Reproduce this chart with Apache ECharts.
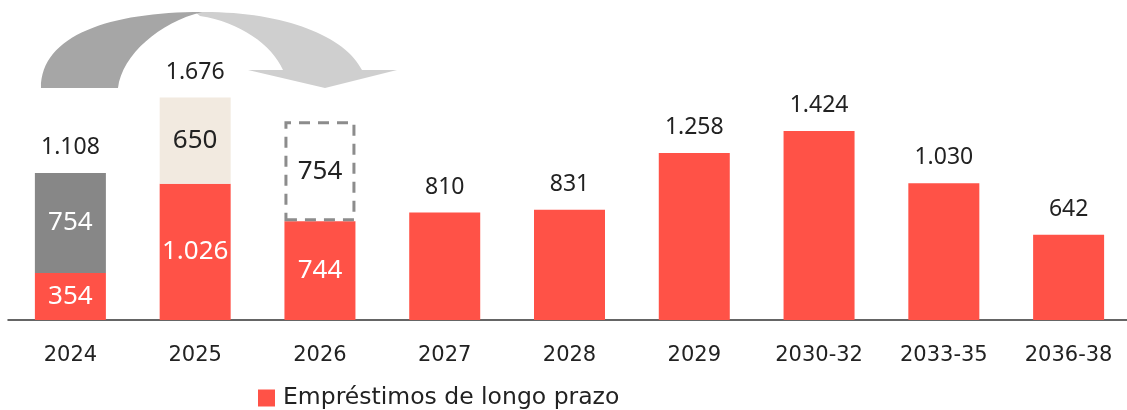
<!DOCTYPE html>
<html>
<head>
<meta charset="utf-8">
<script src="https://cdn.jsdelivr.net/npm/echarts@6/dist/echarts.min.js"></script>
<style>
html,body{margin:0;padding:0;background:#fff;overflow:hidden;}
#c{width:1131px;height:410px;}
</style>
</head>
<body>
<div id="c"></div>
<script>
var categories = ['2024','2025','2026','2027','2028','2029','2030-32','2033-35','2036-38'];
var longTerm = [354, 1026, 744, 810, 831, 1258, 1424, 1030, 642];
var shortTerm2024 = [754, null, null, null, null, null, null, null, null];
var extra2025 = [null, 650, null, null, null, null, null, null, null];
var moved2026 = [null, null, 754, null, null, null, null, null, null];
var legendName = 'Empréstimos de longo prazo';

function fmt(n){ return String(n).replace(/\B(?=(\d{3})+(?!\d))/g, '.'); }

var FONT = 'Noto Sans';
var FONT2 = 'DejaVu Sans';
var RED = '#FF5247';
var DARK = '#222222';

var totals = categories.map(function(c, i){
  if (shortTerm2024[i] != null) return longTerm[i] + shortTerm2024[i];
  if (extra2025[i] != null) return longTerm[i] + extra2025[i];
  return null;
});

var redData = longTerm.map(function(v, i){
  var stacked = shortTerm2024[i] != null || extra2025[i] != null || moved2026[i] != null;
  return {
    value: v,
    label: stacked ?
      {show: true, position: 'inside', color: '#fff', fontSize: 26, fontFamily: FONT} :
      {show: true, position: 'top', distance: 14, color: DARK, fontSize: 23, fontFamily: FONT}
  };
});

var totalData = totals.map(function(t){ return t == null ? null : {value: 0, total: t}; });

var arrowLight = 'M195,12 C280,10 345,35 362,70 L397,70 L325,88 L248,70 L283,70 C272,45 240,22 200,16 Z';
var arrowDark = 'M41,88 C41,35 110,12 202,12 C160,22 122,55 118,88 Z';

var chart = echarts.init(document.getElementById('c'), null, {renderer: 'canvas'});
chart.setOption({
  animation: false,
  grid: {left: 8, right: 0, top: 10, bottom: 90},
  legend: {
    data: [legendName],
    left: 258, top: 386, padding: 0,
    itemWidth: 17, itemHeight: 17,
    icon: 'rect',
    textStyle: {fontSize: 23.5, color: DARK, fontFamily: FONT2, padding: [0,0,0,3]}
  },
  xAxis: {
    type: 'category',
    data: categories,
    axisLine: {lineStyle: {color: '#333', width: 1.5}},
    axisTick: {show: false},
    axisLabel: {fontSize: 21, color: DARK, fontFamily: FONT2, margin: 25}
  },
  yAxis: {type: 'value', min: 0, max: 2336, show: false, splitLine: {show: false}},
  series: [
    {name: 'arrow', type: 'custom', data: [0], silent: true, z: 1,
      renderItem: function(){
        return {type: 'group', children: [
          {type: 'path', shape: {pathData: arrowLight}, style: {fill: '#cfcfcf'}},
          {type: 'path', shape: {pathData: arrowDark}, style: {fill: '#a6a6a6'}}
        ]};
      }},
    {name: legendName, type: 'bar', stack: 's', barWidth: 71, data: redData, itemStyle: {color: RED},
      label: {formatter: function(p){ return fmt(p.value); }}},
    {name: 'grey', type: 'bar', stack: 's', barWidth: 71, data: shortTerm2024, itemStyle: {color: '#878787'},
      label: {show: true, position: 'inside', color: '#fff', fontSize: 26, fontFamily: FONT, formatter: function(p){ return fmt(p.value); }}},
    {name: 'beige', type: 'bar', stack: 's', barWidth: 71, data: extra2025, itemStyle: {color: '#F2EAE0'},
      label: {show: true, position: 'inside', color: DARK, fontSize: 26, fontFamily: FONT, formatter: function(p){ return fmt(p.value); }}},
    {name: 'moved', type: 'bar', stack: 's', barWidth: 71, data: moved2026, z: 5,
      itemStyle: {color: 'rgba(0,0,0,0)', borderColor: '#8c8c8c', borderWidth: 3, borderType: [11, 8]},
      label: {show: true, position: 'inside', color: DARK, fontSize: 26, fontFamily: FONT, formatter: function(p){ return fmt(p.value); }}},
    {name: 'total', type: 'bar', stack: 's', barWidth: 71, data: totalData, itemStyle: {color: 'rgba(0,0,0,0)'},
      label: {show: true, position: 'top', distance: 14, color: DARK, fontSize: 23, fontFamily: FONT,
        formatter: function(p){ return p.data && p.data.total ? fmt(p.data.total) : ''; }}}
  ]
});
</script>
</body>
</html>
